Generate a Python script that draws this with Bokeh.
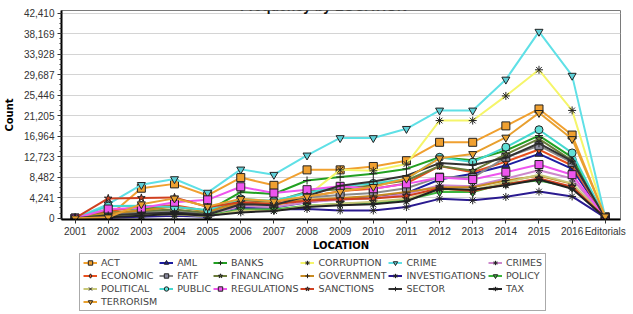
from bokeh.plotting import figure
from bokeh.layouts import column
from bokeh.models import (Range1d, FixedTicker, NumeralTickFormatter, Legend,
                          LegendItem, Label)
from bokeh.embed import file_html
from bokeh.resources import INLINE

# Category axis
locations = ["2001", "2002", "2003", "2004", "2005", "2006", "2007", "2008",
             "2009", "2010", "2011", "2012", "2013", "2014", "2015", "2016",
             "Editorials"]

# Y axis ticks
y_ticks = [0, 4241, 8482, 12723, 16964, 21205, 25446, 29687, 33928, 38169, 42410]

# Term frequency per location
ACT = [0, 300, 6200, 7100, 4700, 8400, 6800, 10000, 10000, 10700, 11900, 15700, 15700, 19100, 22600, 17200, 300]
AML = [0, 300, 1400, 1600, 1000, 2300, 2200, 3300, 4000, 4500, 5200, 8000, 9200, 10900, 13300, 10200, 100]
BANKS = [0, 1800, 2000, 2400, 1500, 5400, 5000, 7800, 8500, 9200, 10200, 12600, 12000, 14000, 17100, 12600, 100]
CORRUPTION = [0, 400, 900, 1300, 700, 2600, 2400, 4600, 10000, 9800, 11200, 20200, 20200, 25300, 30700, 22300, 200]
CRIME = [0, 2900, 6900, 8100, 5300, 10100, 9000, 13000, 16600, 16600, 18500, 22300, 22300, 28700, 38600, 29500, 200]
CRIMES = [0, 800, 1000, 1300, 800, 2500, 2300, 3300, 3800, 4200, 5000, 6800, 6600, 8200, 9900, 8200, 100]
ECONOMIC = [0, 1500, 2300, 2700, 1500, 3700, 3400, 4400, 5600, 6100, 7200, 10800, 9500, 11700, 14200, 10900, 100]
FATF = [0, 800, 1200, 1500, 900, 3000, 2800, 4300, 4800, 5200, 6200, 8500, 8400, 12600, 15000, 11500, 100]
FINANCING = [0, 1200, 1500, 1800, 1100, 3800, 3400, 5500, 6000, 6800, 7800, 10800, 9800, 13200, 16400, 11900, 100]
GOVERNMENT = [0, 1000, 1600, 2400, 1400, 3200, 3000, 3800, 4200, 4600, 5400, 6400, 6400, 7800, 8800, 7100, 100]
INVESTIGATIONS = [0, 100, 300, 500, 300, 1900, 1800, 1900, 1600, 1600, 2300, 4000, 3700, 4400, 5500, 4500, 100]
POLICY = [0, 600, 700, 900, 500, 1800, 1800, 2600, 3000, 3200, 3800, 5400, 5400, 7200, 7800, 6400, 100]
POLITICAL = [0, 300, 600, 800, 400, 1600, 1500, 2500, 3000, 3400, 4000, 6000, 5800, 7400, 9000, 7200, 100]
PUBLIC = [0, 2500, 2600, 2300, 1700, 4000, 3600, 5200, 6600, 7200, 8100, 12600, 11600, 14700, 18300, 13500, 100]
REGULATIONS = [0, 1900, 2100, 3300, 3800, 6500, 5200, 5900, 6600, 6100, 7100, 8400, 8000, 9500, 11100, 9000, 100]
SANCTIONS = [0, 4100, 4200, 4300, 2300, 3300, 2900, 3600, 3900, 4100, 4600, 6200, 5600, 7000, 8200, 6500, 100]
SECTOR = [0, 600, 900, 1200, 700, 2900, 2700, 4600, 6700, 7600, 8800, 11400, 11000, 12500, 15500, 11800, 100]
TAX = [0, 200, 500, 900, 500, 1200, 1500, 2300, 2700, 2900, 3500, 6100, 5900, 6800, 8000, 6100, 100]
TERRORISM = [0, 200, 2900, 4100, 2400, 4000, 3500, 4500, 5500, 6500, 8200, 12400, 13300, 16700, 21800, 16400, 400]

# name, values, line colour, marker, marker fill
series = [
    ("ACT", ACT, "#F0A030", "square", "#F0A030"),
    ("AML", AML, "#1C1CA0", "triangle", "#1C1CA0"),
    ("BANKS", BANKS, "#22A022", "cross", "#22A022"),
    ("CORRUPTION", CORRUPTION, "#F5F56A", "asterisk", "#F5F56A"),
    ("CRIME", CRIME, "#5FE0E6", "inverted_triangle", "#5FD0D8"),
    ("CRIMES", CRIMES, "#CC88CC", "asterisk", "#CC88CC"),
    ("ECONOMIC", ECONOMIC, "#E8501E", "diamond", "#E8501E"),
    ("FATF", FATF, "#8A8A8A", "square", "#8A8A9E"),
    ("FINANCING", FINANCING, "#6B7B3A", "star", "#6B7B3A"),
    ("GOVERNMENT", GOVERNMENT, "#C88A20", "cross", "#C88A20"),
    ("INVESTIGATIONS", INVESTIGATIONS, "#2A1A90", "asterisk", "#2A1A90"),
    ("POLICY", POLICY, "#3CB43C", "inverted_triangle", "#3CB43C"),
    ("POLITICAL", POLITICAL, "#C8C878", "x", "#C8C878"),
    ("PUBLIC", PUBLIC, "#45D8D0", "circle", "#60E0D8"),
    ("REGULATIONS", REGULATIONS, "#EE55EE", "square", "#EE55EE"),
    ("SANCTIONS", SANCTIONS, "#D04020", "star", "#D04020"),
    ("SECTOR", SECTOR, "#333333", "cross", "#333333"),
    ("TAX", TAX, "#222222", "asterisk", "#222222"),
    ("TERRORISM", TERRORISM, "#E8A030", "inverted_triangle", "#E8A030"),
]

xs = list(range(len(locations)))

# ---- main chart ----
p = figure(width=633, height=253, output_backend="svg", toolbar_location=None,
           x_range=Range1d(-0.41, 16.46), y_range=Range1d(-270, 42970),
           min_border_left=58, min_border_right=13, min_border_top=10,
           min_border_bottom=34)

p.background_fill_color = "white"
p.border_fill_color = "white"
p.outline_line_color = "#7A7A7A"
p.outline_line_width = 1

p.xgrid.grid_line_color = None
p.ygrid.grid_line_color = "#D4D4D4"
p.ygrid.grid_line_width = 1

minor = [k * 4241 / 4 for k in range(41)]
p.yaxis.ticker = FixedTicker(ticks=y_ticks, minor_ticks=minor)
p.yaxis.formatter = NumeralTickFormatter(format="0,0")
p.xaxis.ticker = FixedTicker(ticks=xs)
p.xaxis.major_label_overrides = {i: lab for i, lab in enumerate(locations)}

for ax in (p.xaxis[0], p.yaxis[0]):
    ax.axis_line_color = "black"
    ax.axis_line_width = 2
    ax.major_tick_line_color = "#333333"
    ax.major_tick_in = 0
    ax.major_tick_out = 4
    ax.major_label_text_font = "Liberation Sans"
    ax.major_label_text_font_size = "10px"
    ax.major_label_text_color = "#333333"
    ax.axis_label_text_font = "DejaVu Sans"
    ax.axis_label_text_font_style = "bold"
    ax.axis_label_text_font_size = "10px"
    ax.axis_label_text_color = "black"

p.yaxis.minor_tick_line_color = "#333333"
p.yaxis.minor_tick_in = 0
p.yaxis.minor_tick_out = 2
p.xaxis.minor_tick_line_color = None
p.xaxis.major_label_standoff = 2
p.yaxis.major_label_standoff = 3
p.xaxis.axis_label = "LOCATION"
p.yaxis.axis_label = "Count"
p.xaxis.axis_label_standoff = 0
p.yaxis.axis_label_standoff = 6

for name, vals, color, marker, fill in series:
    p.line(xs, vals, line_color=color, line_width=2)
    p.scatter(xs, vals, marker=marker, size=8, fill_color=fill,
              line_color="#222222", line_width=1)

title = Label(x=7.5, y=43900, text="Frequency by LOCATION",
              text_font="Liberation Sans", text_font_style="bold",
              text_font_size="14px", text_align="center",
              text_baseline="alphabetic", text_color="#111111")
p.add_layout(title)

# ---- legend strip (series drawn outside its visible range) ----
lg = figure(width=633, height=61, output_backend="svg", toolbar_location=None,
            x_range=Range1d(100, 101), y_range=Range1d(-1000, -999),
            x_axis_type=None, y_axis_type=None,
            min_border_left=0, min_border_right=0, min_border_top=0,
            min_border_bottom=0)
lg.outline_line_color = None
lg.xgrid.grid_line_color = None
lg.ygrid.grid_line_color = None

items = []
for name, vals, color, marker, fill in series:
    lr = lg.line(xs, vals, line_color=color, line_width=2)
    sr = lg.scatter(xs, vals, marker=marker, size=8, fill_color=fill,
                    line_color="#222222", line_width=1)
    items.append(LegendItem(label=name, renderers=[lr, sr]))

legend = Legend(items=items, ncols=6, orientation="horizontal",
                location=(18, 3),
                label_text_font="DejaVu Sans", label_text_font_size="9.5px",
                label_height=11, glyph_height=11, glyph_width=14,
                label_standoff=4, spacing=2, padding=3, margin=0,
                border_line_color="#555555", border_line_width=1,
                background_fill_color="white", background_fill_alpha=1)
lg.add_layout(legend, "center")

open("out.html", "w").write(file_html(column(p, lg, spacing=0), INLINE))
